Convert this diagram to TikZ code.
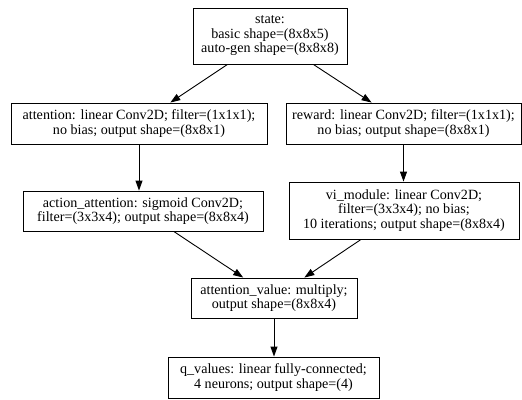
\documentclass[tikz,border=0pt]{standalone}
\usepackage{fontspec}
\setmainfont{Liberation Serif}
\usetikzlibrary{arrows.meta}
\tikzset{
  layer/.style={draw=black, line width=0.9pt, align=center, inner sep=0pt,
    font=\fontsize{14.1pt}{14.5pt}\selectfont},
  flow/.style={draw=black, line width=0.9pt, -{Triangle[length=10pt,width=7pt]}},
}
\begin{document}
\begin{tikzpicture}[x=1pt,y=-1pt]
     % Page size of the reference (y runs downwards):
     \useasboundingbox (0,0) rectangle (522,399);

     % Layers:
     % Each box is placed at its centre and given the size it has in the reference
     \node [layer, minimum width=154pt, minimum height=56pt] (state) at (270,36)
           {state:\\basic shape=(8x8x5)\\auto-gen shape=(8x8x8)};
     \node [layer, minimum width=256pt, minimum height=41pt] (attention) at (139,123.5)
           {attention: linear Conv2D; filter=(1x1x1);\\no bias; output shape=(8x8x1)};
     \node [layer, minimum width=235pt, minimum height=41pt] (reward) at (403.5,123.5)
           {reward: linear Conv2D; filter=(1x1x1);\\no bias; output shape=(8x8x1)};
     \node [layer, minimum width=240pt, minimum height=40pt] (actatt) at (143,211)
           {action\_attention: sigmoid Conv2D;\\filter=(3x3x4); output shape=(8x8x4)};
     \node [layer, minimum width=230pt, minimum height=57pt] (vimod) at (404,210.5)
           {vi\_module: linear Conv2D;\\filter=(3x3x4); no bias;\\10 iterations; output shape=(8x8x4)};
     \node [layer, minimum width=166pt, minimum height=40pt] (attval) at (274,298)
           {attention\_value: multiply;\\output shape=(8x8x4)};
     \node [layer, minimum width=211pt, minimum height=41pt] (qvals) at (273.5,377.5)
           {q\_values: linear fully-connected;\\4 neurons; output shape=(4)};

     % Connections:
     % The straight ones drop from the bottom of one box to the top of the next
     \draw [flow] (state) -- (attention);
     \draw [flow] (state) -- (reward);
     \draw [flow] (attention.south) -- (attention.south |- actatt.north);
     \draw [flow] (reward.south) -- (reward.south |- vimod.north);
     \draw [flow] (actatt) -- (attval);
     \draw [flow] (vimod) -- (attval);
     \draw [flow] (attval.south) -- (attval.south |- qvals.north);
\end{tikzpicture}
\end{document}
